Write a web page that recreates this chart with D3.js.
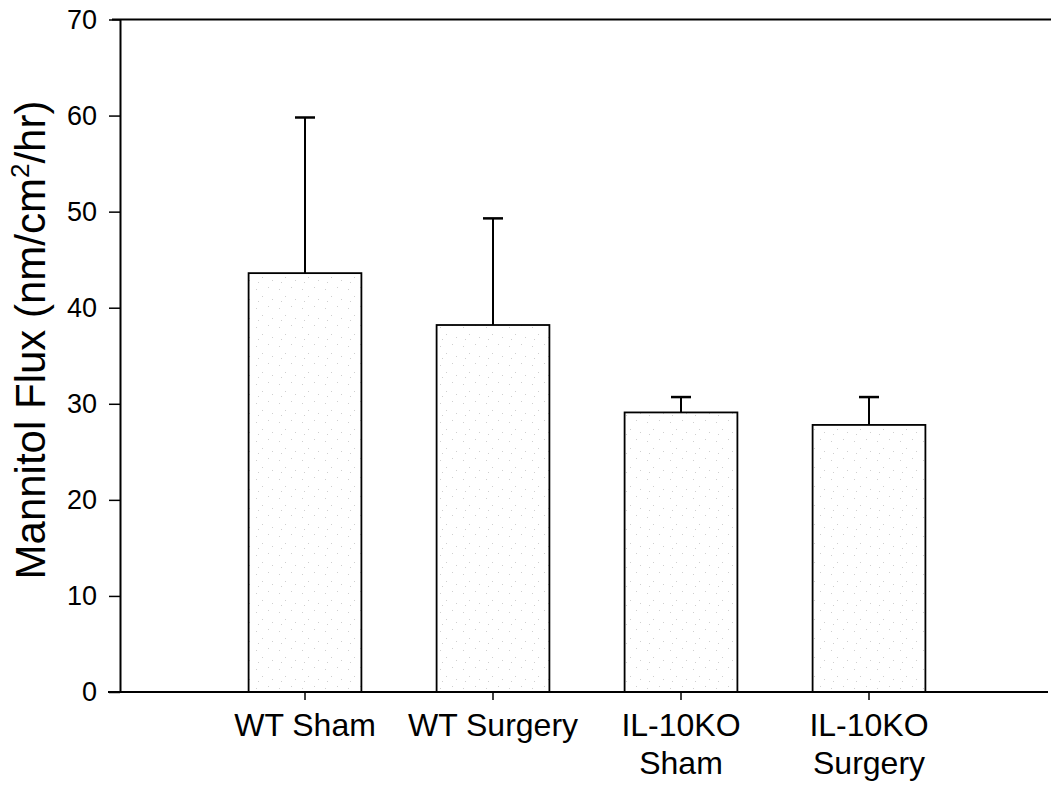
<!DOCTYPE html>
<html>
<head>
<meta charset="utf-8">
<script src="https://cdn.jsdelivr.net/npm/d3@7"></script>
<style>
  body { margin: 0; background: #fff; }
  text { font-family: "Liberation Sans", Arial, sans-serif; fill: #000; }
</style>
</head>
<body>
<div id="chart"></div>
<script>
// datos
var grupos = ["WT Sham", "WT Surgery", "IL-10KO Sham", "IL-10KO Surgery"];
var etiquetas = [["WT Sham"], ["WT Surgery"], ["IL-10KO", "Sham"], ["IL-10KO", "Surgery"]];
var medias = [43.6, 38.2, 29.1, 27.8];
var errores = [59.8, 49.3, 30.7, 30.7];   // extremo superior de la barra de error
var ticksY = [0, 10, 20, 30, 40, 50, 60, 70];

var width = 1051, height = 785;

var svg = d3.select("#chart").append("svg")
  .attr("width", width)
  .attr("height", height);

// patron punteado suave para el relleno de las barras
var defs = svg.append("defs");
var pat = defs.append("pattern")
  .attr("id", "punteado")
  .attr("patternUnits", "userSpaceOnUse")
  .attr("width", 23).attr("height", 19);
pat.append("rect").attr("width", 23).attr("height", 19).attr("fill", "#fff");
[[3, 4], [15, 2], [9, 11], [19, 14], [5, 16]].forEach(function(p) {
  pat.append("rect").attr("x", p[0]).attr("y", p[1])
    .attr("width", 1).attr("height", 1).attr("fill", "#cfcfcf");
});

var x = d3.scaleBand()
  .domain(grupos)
  .range([211, 963])
  .paddingInner(0.4)
  .paddingOuter(0.2);

var y = d3.scaleLinear()
  .domain([0, 70])
  .range([692, 19.5]);

// linea superior del marco
svg.append("line")
  .attr("x1", 112).attr("x2", 1051)
  .attr("y1", y(70)).attr("y2", y(70))
  .attr("stroke", "#000").attr("stroke-width", 2);

// barras
svg.selectAll(".bar")
  .data(grupos)
  .enter().append("rect")
  .attr("class", "bar")
  .attr("x", function(d) { return x(d); })
  .attr("y", function(d, i) { return y(medias[i]); })
  .attr("width", x.bandwidth())
  .attr("height", function(d, i) { return y(0) - y(medias[i]); })
  .attr("fill", "url(#punteado)")
  .attr("stroke", "#000")
  .attr("stroke-width", 1.8);

// barras de error (solo hacia arriba)
var err = svg.selectAll(".err")
  .data(grupos)
  .enter().append("g")
  .attr("class", "err");
err.append("line")
  .attr("x1", function(d) { return x(d) + x.bandwidth() / 2; })
  .attr("x2", function(d) { return x(d) + x.bandwidth() / 2; })
  .attr("y1", function(d, i) { return y(medias[i]); })
  .attr("y2", function(d, i) { return y(errores[i]); })
  .attr("stroke", "#000").attr("stroke-width", 2);
err.append("line")
  .attr("x1", function(d) { return x(d) + x.bandwidth() / 2 - 10; })
  .attr("x2", function(d) { return x(d) + x.bandwidth() / 2 + 10; })
  .attr("y1", function(d, i) { return y(errores[i]); })
  .attr("y2", function(d, i) { return y(errores[i]); })
  .attr("stroke", "#000").attr("stroke-width", 2.5);

// eje Y
var ejeY = svg.append("g")
  .attr("transform", "translate(120,0)")
  .call(d3.axisLeft(y).tickValues(ticksY).tickSize(11).tickPadding(12).tickSizeOuter(0));
ejeY.select(".domain").attr("stroke-width", 2);
ejeY.selectAll(".tick line").attr("stroke-width", 1.5);
ejeY.selectAll("text").style("font-size", "27px");

// eje X
var ejeX = svg.append("g")
  .attr("transform", "translate(0," + y(0) + ")")
  .call(d3.axisBottom(x).tickSize(8).tickSizeOuter(0).tickFormat(""));
ejeX.select(".domain").attr("d", "M108,0H1048").attr("stroke-width", 2);
ejeX.selectAll(".tick line").attr("stroke-width", 1.5);

// etiquetas del eje X en una o dos lineas
ejeX.selectAll(".tick").each(function(d, i) {
  var t = d3.select(this).append("text")
    .attr("text-anchor", "middle")
    .attr("y", 44)
    .style("font-size", "32px");
  etiquetas[i].forEach(function(s, k) {
    t.append("tspan").attr("x", 0).attr("dy", k === 0 ? 0 : 38).text(s);
  });
});

// titulo del eje Y
var ty = svg.append("text")
  .attr("transform", "translate(45,340) rotate(-90)")
  .attr("text-anchor", "middle")
  .style("font-size", "42px");
ty.append("tspan").text("Mannitol Flux (nm/cm");
ty.append("tspan").attr("dy", -16).style("font-size", "26px").text("2");
ty.append("tspan").attr("dy", 16).text("/hr)");
</script>
</body>
</html>
